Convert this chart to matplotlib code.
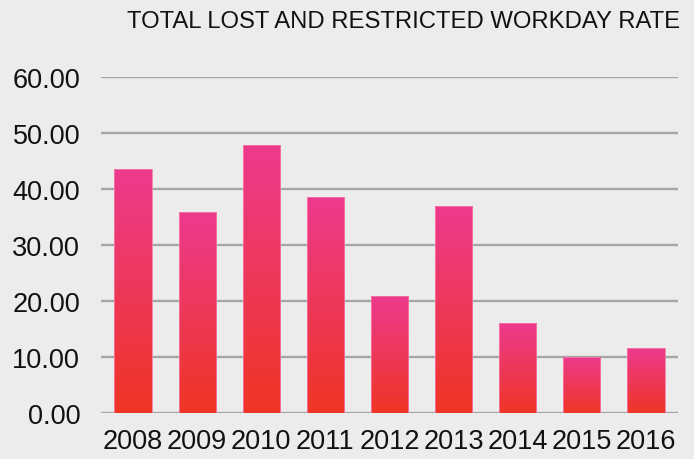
import matplotlib
matplotlib.use("Agg")
import matplotlib.pyplot as plt
import numpy as np
from matplotlib.colors import LinearSegmentedColormap

years = ["2008", "2009", "2010", "2011", "2012", "2013", "2014", "2015", "2016"]
rates = [43.6, 35.9, 47.9, 38.6, 20.9, 37.0, 16.0, 10.05, 11.55]
yticks = [0, 10, 20, 30, 40, 50, 60]
title = "TOTAL LOST AND RESTRICTED WORKDAY RATE"

plt.rcParams['font.family'] = ['Liberation Sans', 'DejaVu Sans']
bg = "#ececec"
fig = plt.figure(figsize=(6.94, 4.60), dpi=100, facecolor=bg)
ax = fig.add_axes([101/694, 46/460, 577/694, 336/460], facecolor=bg)

x = np.arange(len(years))
ax.set_yticks(yticks)
ax.set_yticklabels([f"{v:.2f}" for v in yticks])
ax.set_xticks(x)
ax.set_xticklabels(years)
for y in yticks:
    ax.axhline(y, color="#a6a6a6", lw=1.7, zorder=1)

cmap = LinearSegmentedColormap.from_list("g", ["#ef3524", "#ec3a8e"])
grad = np.linspace(0, 1, 256).reshape(-1, 1)
bars = ax.bar(x, rates, width=0.58, color="none", edgecolor="#f57aa6", lw=0.6, zorder=3)
for b in bars:
    x0, w, h = b.get_x(), b.get_width(), b.get_height()
    im = ax.imshow(grad, cmap=cmap, origin="lower", aspect="auto",
                   extent=[x0, x0 + w, 0, h], zorder=2)
    im.set_clip_path(b)
ax.set_xlim(-0.5, len(years) - 0.5)
ax.set_ylim(0, 60)

for s in ax.spines.values():
    s.set_visible(False)
ax.tick_params(length=0, labelsize=19.5, colors="#111111")
ax.tick_params(axis="y", pad=15)
ax.tick_params(axis="x", pad=11)

fig.text(680/694, 1 - 22/460, title, ha="right", va="center", fontsize=17.2, color="#111111")

fig.savefig("out.png", dpi=100, facecolor=bg)
